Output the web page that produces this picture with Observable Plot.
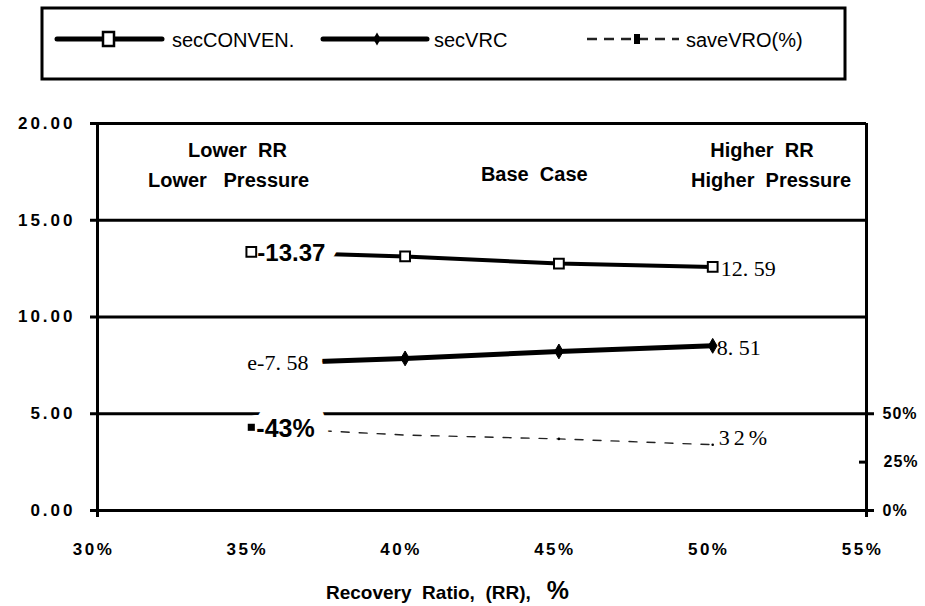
<!DOCTYPE html>
<html>
<head>
<meta charset="utf-8">
<script src="https://cdn.jsdelivr.net/npm/d3@7"></script>
<script src="https://cdn.jsdelivr.net/npm/@observablehq/plot@0.6"></script>
<style>
  html, body { margin: 0; padding: 0; background: white; }
  #wrap { position: relative; width: 925px; height: 606px; overflow: hidden; font-family: "Liberation Sans", Arial, sans-serif; }
  #legend { display: block; }
  #chart svg text { white-space: pre; }
  #chart g[aria-label="y-axis tick label"] text { letter-spacing: 3px; }
  #chart g[aria-label="x-axis tick label"] text { letter-spacing: 2.5px; }
  #xtitle { position: absolute; left: 0; top: 572px; width: 925px; height: 36px; line-height: 36px; }
  #xtitle span.t { position: absolute; left: 326px; font-weight: bold; font-size: 19px; white-space: pre; }
  #xtitle span.p { font-size: 25px; }
</style>
</head>
<body>
<div id="wrap">
  <svg id="legend" width="925" height="100"></svg>
  <div id="chart"></div>
  <div id="xtitle"><span class="t">Recovery  Ratio,  (RR),   <span class="p">%</span></span></div>
</div>
<script>
// ---- data ----
const rr = [35, 40, 45, 50];                 // Recovery Ratio, %
const secCONVEN = [13.37, 13.13, 12.76, 12.59];
const secVRC = [7.58, 7.86, 8.22, 8.51];
const saveVRO = [43, 39, 37, 34];            // %, right axis
const seriesNames = ["secCONVEN.", "secVRC", "saveVRO(%)"];
const xTicks = [30, 35, 40, 45, 50, 55];
const leftTicks = [0, 5, 10, 15, 20];
const rightTicksOut = [0, 50];
const rightTicksIn = [25];
const startLabels = ["-13.37", "e-7. 58", "-43%"];
const endLabels = ["12. 59", "8. 51", "32%"];
const notes = [
  {text: "Lower  RR", x: 34.55, y: 18.6},
  {text: "Lower   Pressure", x: 34.26, y: 17.05},
  {text: "Base  Case", x: 44.2, y: 17.35},
  {text: "Higher  RR", x: 51.6, y: 18.6},
  {text: "Higher  Pressure", x: 51.9, y: 17.05}
];

// right axis: 0–50 % spans the same height as 0–5 on the left axis
const pct = v => v / 10;

const rows = rr.map((r, i) => ({rr: r, conv: secCONVEN[i], vrc: secVRC[i], save: saveVRO[i]}));
const first = rows[0], last = rows[rows.length - 1];

// ---- legend (drawn as plain SVG) ----
const lg = d3.select("#legend");
lg.append("rect").attr("x", 42).attr("y", 8).attr("width", 803).attr("height", 71)
  .attr("fill", "none").attr("stroke", "black").attr("stroke-width", 3);
const LY = 39;
// item 1
lg.append("line").attr("x1", 57).attr("x2", 162).attr("y1", LY).attr("y2", LY)
  .attr("stroke", "black").attr("stroke-width", 5).attr("stroke-linecap", "round");
lg.append("rect").attr("x", 103).attr("y", LY - 7).attr("width", 11).attr("height", 14)
  .attr("fill", "white").attr("stroke", "black").attr("stroke-width", 2.5);
// item 2
lg.append("line").attr("x1", 323).attr("x2", 427).attr("y1", LY).attr("y2", LY)
  .attr("stroke", "black").attr("stroke-width", 5).attr("stroke-linecap", "round");
lg.append("path").attr("d", d3.symbol(d3.symbolDiamond, 50)()).attr("transform", `translate(377,${LY})`).attr("fill", "black");
// item 3
lg.append("line").attr("x1", 587).attr("x2", 679).attr("y1", LY).attr("y2", LY)
  .attr("stroke", "#222").attr("stroke-width", 2.5).attr("stroke-dasharray", "10,7");
lg.append("rect").attr("x", 634).attr("y", LY - 5).attr("width", 6).attr("height", 10).attr("fill", "black");
const lx = [172, 434, 686];
seriesNames.forEach((n, i) => {
  lg.append("text").attr("x", lx[i]).attr("y", LY + 1).attr("dy", "0.35em")
    .attr("font-family", "Liberation Sans, Arial, sans-serif").attr("font-size", 20).text(n);
});

// ---- chart ----
const chart = Plot.plot({
  width: 925,
  height: 470,
  marginTop: 23,
  marginBottom: 60,
  marginLeft: 97,
  marginRight: 59,
  x: {domain: [xTicks[0], xTicks[xTicks.length - 1]]},
  y: {domain: [leftTicks[0], leftTicks[leftTicks.length - 1]]},
  style: {fontFamily: "Liberation Sans, Arial, sans-serif", background: "white", color: "black"},
  marks: [
    // gridlines & frame
    Plot.ruleY(leftTicks, {stroke: "black", strokeWidth: 3}),
    Plot.ruleX([xTicks[0], xTicks[xTicks.length - 1]], {stroke: "black", strokeWidth: 3, insetBottom: -7}),
    // axes
    Plot.axisY(leftTicks, {anchor: "left", tickSize: 7, strokeWidth: 3, tickPadding: 15,
      tickFormat: d => d.toFixed(2), fontSize: 17, fontWeight: "bold"}),
    Plot.axisY(rightTicksOut.map(pct), {anchor: "right", tickSize: 7, strokeWidth: 3, tickPadding: 9,
      tickFormat: d => Math.round(d * 10) + "%", fontSize: 16, fontWeight: "bold"}),
    Plot.axisY(rightTicksIn.map(pct), {anchor: "right", tickSize: -8, strokeWidth: 3, tickPadding: 25,
      tickFormat: d => Math.round(d * 10) + "%", fontSize: 16, fontWeight: "bold"}),
    Plot.axisX(xTicks, {anchor: "bottom", tickSize: 0, tickPadding: 32, dx: -4,
      tickFormat: d => d + "%", fontSize: 17, fontWeight: "bold"}),
    // annotations
    Plot.text(notes, {x: "x", y: "y", text: "text", fontSize: 20, fontWeight: "bold", textAnchor: "middle"}),
    // series lines
    Plot.line(rows, {x: "rr", y: "conv", stroke: "black", strokeWidth: 4}),
    Plot.line(rows, {x: "rr", y: "vrc", stroke: "black", strokeWidth: 5}),
    Plot.line(rows, {x: "rr", y: d => pct(d.save), stroke: "#222", strokeWidth: 1.4, strokeDasharray: "8,10"}),
    // start labels with white backing
    Plot.text([first], {x: "rr", y: "conv", text: () => startLabels[0], textAnchor: "start", dx: 6, dy: 2,
      fontSize: 24, fontWeight: "bold", stroke: "white", strokeWidth: 26, paintOrder: "stroke", fill: "black", strokeLinejoin: "round"}),
    Plot.text([first], {x: "rr", y: "vrc", text: () => startLabels[1], textAnchor: "start", dx: -4, dy: -1,
      fontSize: 22, fontFamily: "Liberation Serif, serif", stroke: "white", strokeWidth: 30, paintOrder: "stroke", fill: "black", strokeLinejoin: "round"}),
    Plot.text([first], {x: "rr", y: d => pct(d.save), text: () => startLabels[2], textAnchor: "start", dx: 5, dy: 2,
      fontSize: 25, fontWeight: "bold", stroke: "white", strokeWidth: 28, paintOrder: "stroke", fill: "black", strokeLinejoin: "round"}),
    // markers
    Plot.dot(rows, {x: "rr", y: "conv", symbol: "square", r: 5.5, fill: "white", stroke: "black", strokeWidth: 2}),
    Plot.dot(rows.slice(1), {x: "rr", y: "vrc", symbol: "diamond", r: 4.5, fill: "black", stroke: "black", strokeWidth: 1}),
    Plot.dot([first], {x: "rr", y: d => pct(d.save), symbol: "square", r: 4, fill: "black"}),
    Plot.dot(rows.slice(2), {x: "rr", y: d => pct(d.save), r: 1.3, fill: "black"}),
    // end labels
    Plot.text([last], {x: "rr", y: "conv", text: () => endLabels[0], textAnchor: "start", dx: 8, dy: 2,
      fontSize: 22, fontFamily: "Liberation Serif, serif"}),
    Plot.text([last], {x: "rr", y: "vrc", text: () => endLabels[1], textAnchor: "start", dx: 4, dy: 2,
      fontSize: 22, fontFamily: "Liberation Serif, serif"}),
    Plot.text([last], {x: "rr", y: d => pct(d.save), text: () => endLabels[2], textAnchor: "start", dx: 6, dy: -7,
      fontSize: 22, fontFamily: "Liberation Serif, serif"})
  ]
});
document.getElementById("chart").appendChild(chart);
// letter spacing tweaks
d3.select(chart).selectAll("text").filter(function() { return this.textContent === endLabels[2]; })
  .style("letter-spacing", "4px");
d3.select(chart).selectAll('g[aria-label="y-axis tick label"] text')
  .filter(function() { return this.textContent.endsWith("%"); })
  .style("letter-spacing", "1px");
</script>
</body>
</html>
